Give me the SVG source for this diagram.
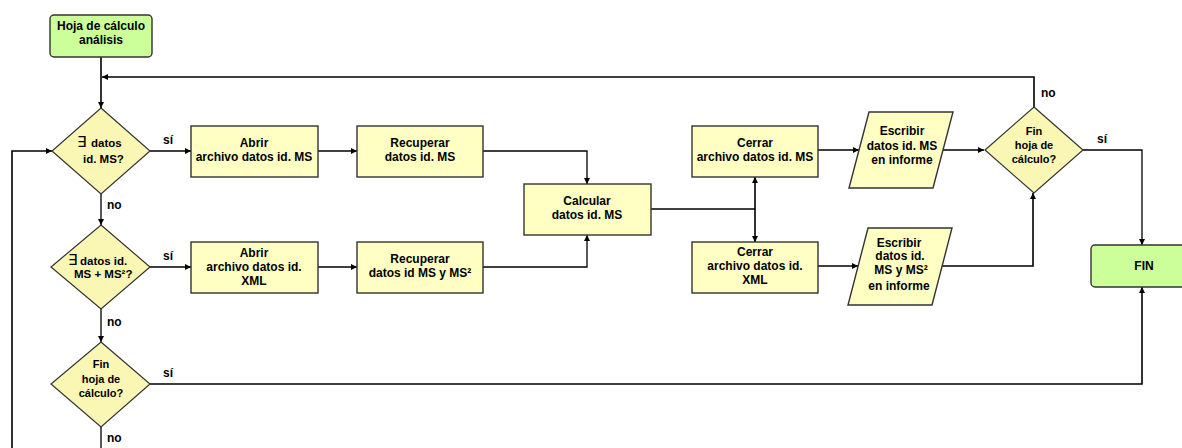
<svg xmlns="http://www.w3.org/2000/svg" width="1182" height="448" viewBox="0 0 1182 448">
<style>
  .box{fill:#FFFFC4;stroke:#333;stroke-width:1.4}
  .dia{fill:#FAF6B4;stroke:#333;stroke-width:1.2}
  .term{fill:#CCFF99;stroke:#333;stroke-width:1.4}
  text{font-family:"Liberation Sans",Arial,sans-serif;font-weight:bold;font-size:12px;fill:#000;text-anchor:middle}
  .lbl{text-anchor:start}
  .st{text-anchor:start;font-size:11.5px}
  .sm{font-size:11px}
  .ex{font-family:"DejaVu Sans",sans-serif;font-weight:normal;font-size:15px}
  .c{fill:none;stroke:#000;stroke-width:1.3}
  .ct{fill:none;stroke:#000;stroke-width:1.6}
</style>
<defs>
  <marker id="ah" viewBox="0 0 6 6" refX="6" refY="3" markerWidth="6" markerHeight="6" markerUnits="userSpaceOnUse" orient="auto">
    <path d="M0,0 L6,3 L0,6 z" fill="#000"/>
  </marker>
  <marker id="as" viewBox="0 0 6 6" refX="0" refY="3" markerWidth="6" markerHeight="6" markerUnits="userSpaceOnUse" orient="auto">
    <path d="M6,0 L0,3 L6,6 z" fill="#000"/>
  </marker>
</defs>

<g id="connectors">
  <path class="ct" d="M101,57 V108" marker-end="url(#ah)"/>
  <path class="ct" d="M1034,107 V77 H102" marker-end="url(#ah)"/>
  <path class="c" d="M150,151 H191" marker-end="url(#ah)"/>
  <path class="c" d="M318,151 H357" marker-end="url(#ah)"/>
  <path class="c" d="M483,151 H587 V184" marker-end="url(#ah)"/>
  <path class="c" d="M101,194 V225" marker-end="url(#ah)"/>
  <path class="c" d="M150,267 H191" marker-end="url(#ah)"/>
  <path class="c" d="M318,267 H357" marker-end="url(#ah)"/>
  <path class="c" d="M483,267 H587 V235" marker-end="url(#ah)"/>
  <path class="c" d="M101,309 V342" marker-end="url(#ah)"/>
  <path class="ct" d="M150,384 H1142 V287" marker-end="url(#ah)"/>
  <path class="c" d="M101,427 V448"/>
  <path class="ct" d="M12,448 V151 H52" marker-end="url(#ah)"/>
  <path class="c" d="M651,209 H755"/>
  <path class="ct" d="M755,177 V242" marker-start="url(#as)" marker-end="url(#ah)"/>
  <path class="ct" d="M818,150 H859" marker-end="url(#ah)"/>
  <path class="ct" d="M818,266 H858" marker-end="url(#ah)"/>
  <path class="ct" d="M943,150 H984" marker-end="url(#ah)"/>
  <path class="ct" d="M942,266 H1033 V193" marker-end="url(#ah)"/>
  <path class="c" d="M1083,150 H1142 V245" marker-end="url(#ah)"/>
  <text class="lbl" x="163" y="144">sí</text>
  <text class="lbl" x="107" y="209">no</text>
  <text class="lbl" x="163" y="260">sí</text>
  <text class="lbl" x="107" y="326">no</text>
  <text class="lbl" x="163" y="377">sí</text>
  <text class="lbl" x="107" y="442">no</text>
  <text class="lbl" x="1041" y="97">no</text>
  <text class="lbl" x="1097" y="143">sí</text>
</g>

<g id="start">
  <rect class="term" x="50" y="15" width="102" height="42" rx="4"/>
  <text x="101" y="30">Hoja de cálculo</text>
  <text x="101" y="44">análisis</text>
</g>

<g id="d1">
  <polygon class="dia" points="101,108 150,151 101,194 52,151"/>
  <text class="st" x="77" y="147"><tspan class="ex">∃</tspan></text>
  <text class="st" x="91" y="147">datos</text>
  <text class="st" x="83" y="163">id. MS?</text>
</g>

<g id="d2">
  <polygon class="dia" points="101,225 150,267 101,309 51,267"/>
  <text class="st" x="68" y="265"><tspan class="ex">∃</tspan></text>
  <text class="st" x="80" y="265">datos id.</text>
  <text class="st" x="74" y="278">MS + MS²?</text>
</g>

<g id="d3">
  <polygon class="dia" points="101,342 150,384 101,427 51,384"/>
  <text class="sm" x="101" y="368">Fin</text>
  <text class="sm" x="101" y="383">hoja de</text>
  <text class="sm" x="101" y="397">cálculo?</text>
</g>

<g id="abrir-ms">
  <rect class="box" x="191" y="126" width="127" height="51"/>
  <text x="254" y="147">Abrir</text>
  <text x="254" y="161">archivo datos id. MS</text>
</g>

<g id="recuperar-ms">
  <rect class="box" x="357" y="126" width="126" height="51"/>
  <text x="420" y="147">Recuperar</text>
  <text x="420" y="161">datos id. MS</text>
</g>

<g id="abrir-xml">
  <rect class="box" x="191" y="242" width="127" height="51"/>
  <text x="254" y="257">Abrir</text>
  <text x="254" y="271">archivo datos id.</text>
  <text x="254" y="285">XML</text>
</g>

<g id="recuperar-ms2">
  <rect class="box" x="357" y="242" width="126" height="51"/>
  <text x="420" y="263">Recuperar</text>
  <text x="420" y="277">datos id MS y MS²</text>
</g>

<g id="calcular">
  <rect class="box" x="524" y="184" width="127" height="51"/>
  <text x="587" y="205">Calcular</text>
  <text x="587" y="219">datos id. MS</text>
</g>

<g id="cerrar-ms">
  <rect class="box" x="692" y="126" width="126" height="51"/>
  <text x="755" y="147">Cerrar</text>
  <text x="755" y="161">archivo datos id. MS</text>
</g>

<g id="cerrar-xml">
  <rect class="box" x="692" y="242" width="126" height="51"/>
  <text x="755" y="256">Cerrar</text>
  <text x="755" y="270">archivo datos id.</text>
  <text x="755" y="284">XML</text>
</g>

<g id="escribir-ms">
  <polygon class="box" points="869,112 953,112 933,188 849,188"/>
  <text x="902" y="135">Escribir</text>
  <text x="902" y="150">datos id. MS</text>
  <text x="902" y="164">en informe</text>
</g>

<g id="escribir-ms2">
  <polygon class="box" points="868,228 952,228 932,305 848,305"/>
  <text x="899" y="247">Escribir</text>
  <text x="900" y="260">datos id.</text>
  <text x="901" y="274">MS y MS²</text>
  <text x="899" y="290">en informe</text>
</g>

<g id="d4">
  <polygon class="dia" points="1034,107 1083,150 1034,193 985,150"/>
  <text class="sm" x="1034" y="135">Fin</text>
  <text class="sm" x="1034" y="149">hoja de</text>
  <text class="sm" x="1034" y="163">cálculo?</text>
</g>

<g id="fin">
  <rect class="term" x="1091" y="245" width="104" height="42" rx="4"/>
  <text x="1144" y="270">FIN</text>
</g>
</svg>
